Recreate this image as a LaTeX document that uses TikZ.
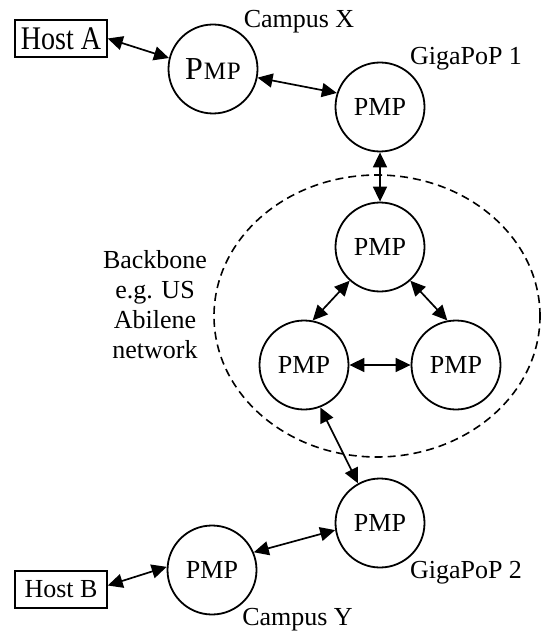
\documentclass[tikz,border=0pt]{standalone}
\usepackage{fontspec}
\setmainfont{Liberation Serif}
\usetikzlibrary{arrows.meta}
\begin{document}
\begin{tikzpicture}[x=1pt,y=-1pt,
  pmp/.style={circle, draw, line width=1.8pt, minimum size=89pt, inner sep=0pt, font=\fontsize{26}{26}\selectfont},
  host/.style={draw, line width=1.5pt, minimum width=92pt, minimum height=37pt, inner sep=0pt},
  lbl/.style={inner sep=0pt, font=\fontsize{26}{30}\selectfont},
  conn/.style={line width=1.7pt, {Triangle[length=15pt,width=14pt]}-{Triangle[length=15pt,width=14pt]}},
  backbone/.style={line width=1.6pt, dash pattern=on 8pt off 5pt}]
\useasboundingbox (0,0) rectangle (542,631);
% backbone cloud
\draw[backbone] (377,316) ellipse [x radius=163pt, y radius=141pt];
% hosts
\node[host] (hostA) at (61,38.5) {\scalebox{0.85}[1]{\fontsize{33}{33}\selectfont Host A}};
\node[host, font=\fontsize{26}{26}\selectfont] (hostB) at (61,589.5) {Host B};
% PMP nodes
\node[pmp] (cx) at (213,69) {{\fontsize{32}{32}\selectfont P}{\fontsize{25}{25}\selectfont\kern0.8pt M\kern0.8pt P}};
\node[pmp] (g1) at (380,107) {PMP};
\node[pmp] (bt) at (380,247) {PMP};
\node[pmp] (bl) at (304,365) {PMP};
\node[pmp] (br) at (456,365) {PMP};
\node[pmp] (g2) at (380,523) {PMP};
\node[pmp] (cy) at (212,570) {PMP};
% labels
\node[lbl, anchor=base] (lcx) at (299,28) {Campus X};
\node[lbl, anchor=base] (lg1) at (466,65) {GigaPoP 1};
\node[lbl, anchor=base] (lg2) at (466,578) {GigaPoP 2};
\node[lbl, anchor=base] (lcy) at (297.5,625) {Campus Y};
\node[lbl, align=center] (lbb) at (155,305) {Backbone\\e.g. US\\Abilene\\network};
% connectors
\draw[conn] (hostA.east) -- (cx.166);
\draw[conn] (cx.349) -- (g1.162);
\draw[conn] (g1) -- (bt);
\draw[conn] (bt.228) -- (bl.79);
\draw[conn] (bt.312) -- (br.101);
\draw[conn] (bl) -- (br);
\draw[conn] (bl.291) -- (g2.119);
\draw[conn] (cy.23) -- (g2.189);
\draw[conn] ([yshift=4pt]hostB.east) -- (cy.176);
\end{tikzpicture}
\end{document}
